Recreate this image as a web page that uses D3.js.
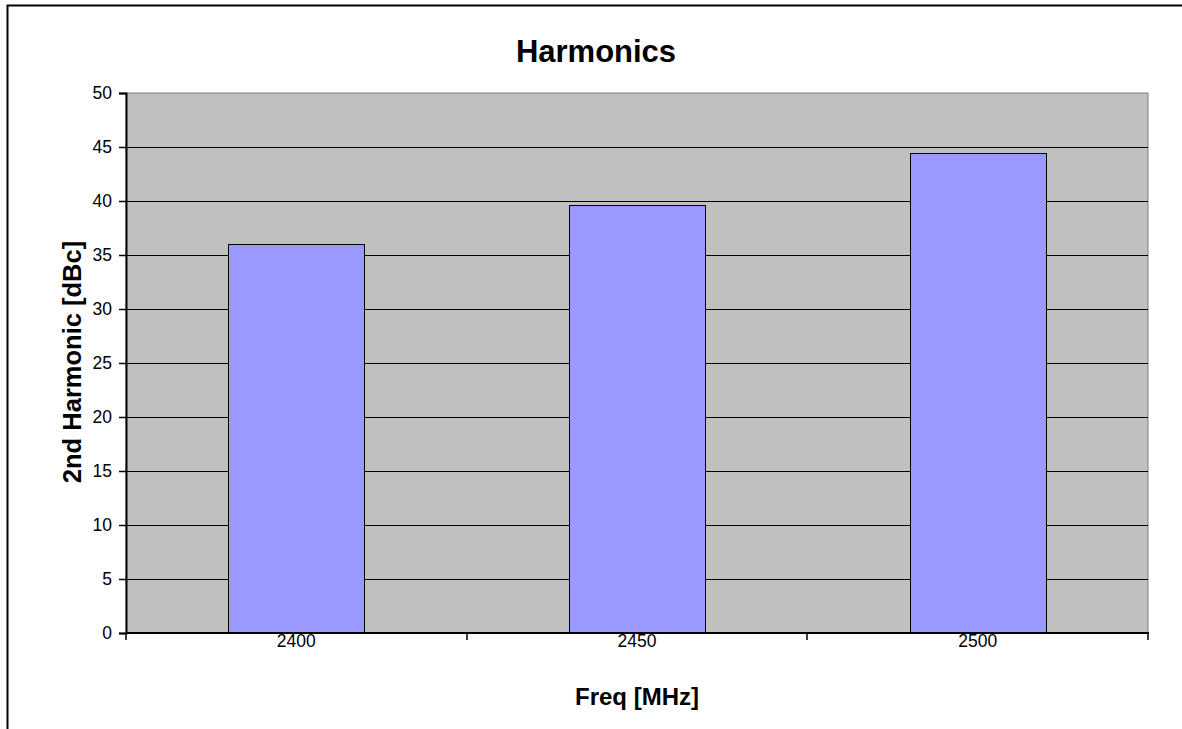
<!DOCTYPE html>
<html><head><meta charset="utf-8">
<script src="https://cdn.jsdelivr.net/npm/d3@7"></script>
<style>body{margin:0;background:#fff}svg{display:block}text{font-family:"Liberation Sans",Arial,sans-serif}</style>
</head><body><svg id="c" width="1182" height="729"></svg>
<script>
const categories = ["2400", "2450", "2500"];
const values = [36.05, 39.6, 44.4];
const yTicks = [0, 5, 10, 15, 20, 25, 30, 35, 40, 45, 50];

const svg = d3.select("#c");
const L = 126, R = 1148, T = 93, B = 633;
// outer chart border
svg.append("path").attr("d", "M7.5,740 V5.5 H1190").attr("fill", "none").attr("stroke", "#000").attr("stroke-width", 2);

const x = d3.scaleBand().domain(categories).range([L, R]).paddingInner(0.6).paddingOuter(0.3);
const y = d3.scaleLinear().domain([0, 50]).range([B, T]);

svg.append("rect").attr("x", L).attr("y", T).attr("width", R - L).attr("height", B - T).attr("fill", "#c0c0c0").attr("stroke", "#808080").attr("stroke-width", 1);

// gridlines
svg.append("g").selectAll("line").data(yTicks.filter(d => d > 0 && d < 50)).join("line")
  .attr("x1", L).attr("x2", R).attr("y1", d => Math.round(y(d)) + 0.5).attr("y2", d => Math.round(y(d)) + 0.5)
  .attr("stroke", "#000").attr("stroke-width", 1);

// bars
svg.append("g").selectAll("rect").data(values).join("rect")
  .attr("x", (d, i) => Math.round(x(categories[i])) + 0.5)
  .attr("y", d => Math.round(y(d)) + 0.5)
  .attr("width", Math.round(x.bandwidth()))
  .attr("height", d => B - Math.round(y(d)) - 0.5)
  .attr("fill", "#9999ff").attr("stroke", "#000").attr("stroke-width", 1);

// y axis
const ya = d3.axisLeft(y).tickValues(yTicks).tickSize(7).tickPadding(7);
const gy = svg.append("g").attr("transform", `translate(${L},0)`).call(ya);
gy.select(".domain").attr("stroke-width", 2);
gy.selectAll(".tick line").attr("stroke-width", 1.5);
gy.selectAll("text").attr("font-size", 17.5).attr("fill", "#000").attr("font-family", "Liberation Sans, Arial, sans-serif");

// x axis
const xb = d3.scaleLinear().domain([0, 3]).range([L, R]);
const gx = svg.append("g").attr("transform", `translate(0,${B})`);
gx.append("line").attr("x1", L).attr("x2", R + 1).attr("y1", 0).attr("y2", 0).attr("stroke", "#000").attr("stroke-width", 2);
gx.selectAll(".tk").data([0, 1, 2, 3]).join("line").attr("class", "tk")
  .attr("x1", d => Math.round(xb(d))).attr("x2", d => Math.round(xb(d))).attr("y1", 0).attr("y2", 7)
  .attr("stroke", "#000").attr("stroke-width", 1.5);
gx.selectAll("text").data(categories).join("text")
  .attr("x", d => x(d) + x.bandwidth() / 2).attr("y", 14)
  .attr("text-anchor", "middle").attr("font-size", 17.5).text(d => d);

// titles
svg.append("text").attr("x", 596).attr("y", 62).attr("text-anchor", "middle").attr("font-size", 31).attr("font-weight", "bold").text("Harmonics");
svg.append("text").attr("x", 637).attr("y", 705).attr("text-anchor", "middle").attr("font-size", 24).attr("font-weight", "bold").text("Freq [MHz]");
svg.append("text").attr("transform", "translate(81,362) rotate(-90)").attr("text-anchor", "middle").attr("font-size", 25.5).attr("font-weight", "bold").text("2nd Harmonic [dBc]");
</script></body></html>
